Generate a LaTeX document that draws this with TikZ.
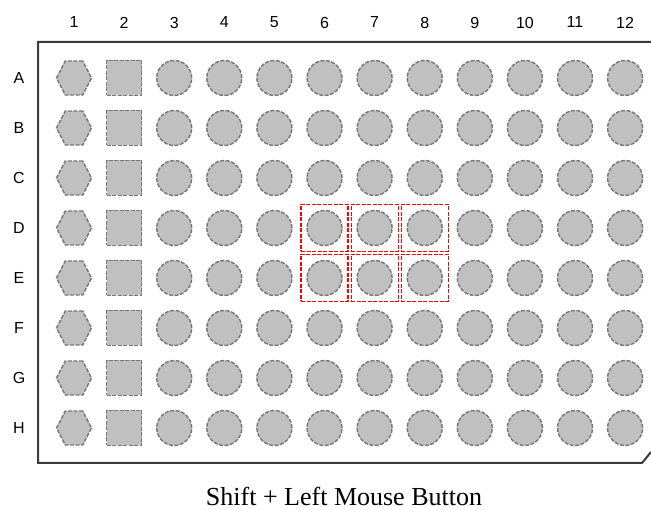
\documentclass[tikz,border=0pt]{standalone}
\usepackage{fontspec}
\setmainfont{Liberation Serif}
\setsansfont{Liberation Sans}
\usetikzlibrary{shapes.geometric}
\definecolor{wellfill}{RGB}{192,192,192}
\definecolor{welledge}{RGB}{118,118,118}
\definecolor{plateedge}{RGB}{60,60,60}
\tikzset{well/.style={draw=welledge,fill=wellfill,line width=1.4pt,dash pattern=on 4pt off 1.5pt,inner sep=0pt},
roundwell/.style={well,circle,minimum size=35pt},
squarewell/.style={well,rectangle,minimum size=35pt},
hexwell/.style={well,regular polygon,regular polygon sides=6,minimum size=35pt,yscale=1.12,transform shape},
selbox/.style={draw=red,line width=1.2pt,dash pattern=on 4pt off 1.5pt,rectangle,minimum size=47pt,inner sep=0pt},
lbl/.style={font=\sffamily\fontsize{16}{16}\selectfont}}
\begin{document}
\begin{tikzpicture}[x=1pt,y=-1pt]
\useasboundingbox(0,0)rectangle(651,510);
\draw[plateedge,line width=2pt](651,42)--(38,42)--(38,463)--(642,463)--(651,452);
\foreach \c in {1,...,12}\node[lbl](col-\c)at(23.9+50.1*\c,22.5){\c};
\foreach \r[count=\i] in {A,...,H}{\node[lbl](row-\r)at(19,28+50*\i){\r};
\node[hexwell](w-\r-1)at(23.9+50.1,28+50*\i){};
\node[squarewell](w-\r-2)at(23.9+50.1*2,28+50*\i){};
\foreach \c in {3,...,12}\node[roundwell](w-\r-\c)at(23.9+50.1*\c,28+50*\i){};}
\foreach \r in {D,E}{\foreach \c in {6,7,8}\node[selbox](sel-\r-\c)at(w-\r-\c){};}
\node[font=\fontsize{26}{26}\selectfont,anchor=base,inner sep=0pt](caption)at(344,505){Shift + Left Mouse Button};
\end{tikzpicture}
\end{document}
